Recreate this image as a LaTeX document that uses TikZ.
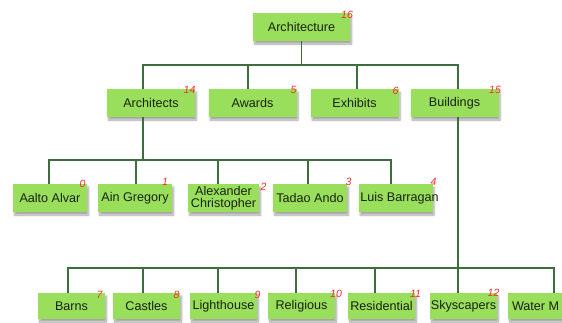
\documentclass[tikz,border=0pt]{standalone}
\usepackage{fontspec}
\setmainfont{Liberation Sans}
\usetikzlibrary{shadows,shadows.blur}
\definecolor{boxgreen}{HTML}{99DF5C}
\definecolor{linegreen}{HTML}{3E6E3E}
\definecolor{numred}{HTML}{FF2A2A}
\definecolor{txt}{HTML}{18220F}
\begin{document}
\begin{tikzpicture}[x=1pt,y=-1pt,
  box/.style={fill=boxgreen, inner sep=0pt, minimum height=28pt, text=txt,
    font=\fontsize{12.6}{12}\selectfont, align=center,
    blur shadow={shadow xshift=1.5pt, shadow yshift=-3pt, shadow blur steps=6, shadow opacity=35}},
  wA/.style={minimum width=97pt},
  wB/.style={minimum width=88pt},
  wC/.style={minimum width=74pt},
  wD/.style={minimum width=67pt, minimum height=26pt},
  num/.style={font=\fontsize{10.5}{10.5}\selectfont\itshape, text=numred, inner sep=0pt},
  conn/.style={draw=linegreen, line width=1.3pt}]
\useasboundingbox (0,0) rectangle (562,322);
\clip (0,0) rectangle (562,322);
% level 1
\node[box,wA] (arch) at (301.5,27) {Architecture};
% level 2
\node[box,wB] (architects) at (151,103) {Architects};
\node[box,wB] (awards) at (252.5,103) {Awards};
\node[box,wB] (exhibits) at (354.5,103) {Exhibits};
\node[box,wB] (buildings) at (454.5,103) {Buildings};
% level 3
\node[box,wC] (aalto) at (50,198) {Aalto Alvar};
\node[box,wC] (ain) at (135,198) {Ain Gregory};
\node[box,minimum width=71pt,font=\fontsize{12.6}{12.5}\selectfont] (alex) at (223.5,198) {Alexander\\Christopher};
\node[box,wC] (tadao) at (310,198) {Tadao Ando};
\node[box,wC] (luis) at (395.5,198) {\makebox[0pt]{\hspace{8pt}Luis Barragan}};
% level 4
\node[box,wD] (barns) at (71.5,306) {Barns};
\node[box,wD] (castles) at (146.5,306) {Castles};
\node[box,wD] (light) at (223.5,306) {Lighthouse};
\node[box,wD] (relig) at (301.5,306) {Religious};
\node[box,wD] (resid) at (381.5,306) {Residential};
\node[box,wD] (sky) at (463.5,306) {Skyscapers};
\node[box,wD] (water) at (541.5,306) {\makebox[67pt][l]{\hspace{4pt}Water M}};
% connectors level 1 -> 2
\draw[conn] (arch.south) |- (143,65) -- (architects.north -| 143,0);
\draw[conn] (arch.south) |- (248,65) -- (awards.north -| 248,0);
\draw[conn] (arch.south) |- (357,65) -- (exhibits.north -| 357,0);
\draw[conn] (arch.south) |- (458,65) -- (buildings.north -| 458,0);
% connectors architects -> level 3
\draw[conn] (architects.south -| 143,0) |- (49,160) -- (aalto.north -| 49,0);
\draw[conn] (architects.south -| 143,0) |- (136,160) -- (ain.north -| 136,0);
\draw[conn] (architects.south -| 143,0) |- (218,160) -- (alex.north -| 218,0);
\draw[conn] (architects.south -| 143,0) |- (308,160) -- (tadao.north -| 308,0);
\draw[conn] (architects.south -| 143,0) |- (391,160) -- (luis.north -| 391,0);
% connectors buildings -> level 4
\draw[conn] (buildings.south -| 458,0) |- (68,268) -- (barns.north -| 68,0);
\draw[conn] (buildings.south -| 458,0) |- (143,268) -- (castles.north -| 143,0);
\draw[conn] (buildings.south -| 458,0) |- (218,268) -- (light.north -| 218,0);
\draw[conn] (buildings.south -| 458,0) |- (296,268) -- (relig.north -| 296,0);
\draw[conn] (buildings.south -| 458,0) |- (375,268) -- (resid.north -| 375,0);
\draw[conn] (buildings.south -| 458,0) -- (sky.north -| 458,0);
\draw[conn] (buildings.south -| 458,0) |- (554,268) -- (water.north -| 554,0);
% numbers
\node[num] (n16) at (347,15) {16};
\node[num] (n14) at (189.5,90) {14};
\node[num] (n5) at (293.5,90) {5};
\node[num] (n6) at (395.5,91) {6};
\node[num] (n15) at (495,90) {15};
\node[num] (n0) at (82.5,184) {0};
\node[num] (n1) at (165,182) {1};
\node[num] (n2) at (263.5,187) {2};
\node[num] (n3) at (348.5,182) {3};
\node[num] (n4) at (433.5,182) {4};
\node[num] (n7) at (99.5,295) {7};
\node[num] (n8) at (176.5,295) {8};
\node[num] (n9) at (257.5,295) {9};
\node[num] (n10) at (336,294) {10};
\node[num] (n11) at (415.5,294) {11};
\node[num] (n12) at (493.5,293) {12};
\end{tikzpicture}
\end{document}
